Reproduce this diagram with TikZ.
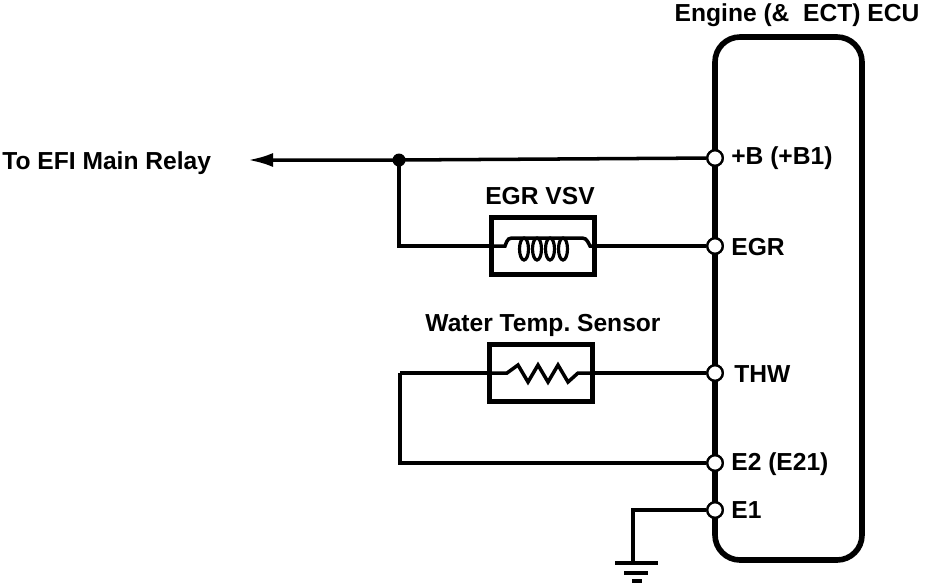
\documentclass[tikz,border=0pt]{standalone}
\usepackage{fontspec}
\setmainfont{Liberation Sans}
\usetikzlibrary{arrows.meta}
\frenchspacing
\begin{document}
\begin{tikzpicture}[x=0.02cm,y=-0.02cm,
  wire/.style={line width=2pt},
  term/.style={circle,draw,fill=white,line width=1.3pt,minimum size=0.31cm,inner sep=0pt},
  dev/.style={draw,line width=2.6pt,minimum width=2.06cm,minimum height=1.14cm,inner sep=0pt},
  lbl/.style={font=\fontsize{14}{16}\selectfont\bfseries,inner sep=0pt},
  tlbl/.style={lbl,anchor=west}]
  \useasboundingbox (0,0) rectangle (928,586);
  \draw[line width=3.2pt,rounded corners=0.5cm] (715,37) rectangle (862,560);
  \node[lbl] (title) at (797,15) {Engine (\&\ \ ECT) ECU};
  \node[term] (tB) at (715,158) {};
  \node[term] (tEGR) at (715,246) {};
  \node[term] (tTHW) at (715,373) {};
  \node[term] (tE2) at (715,463) {};
  \node[term] (tE1) at (715,510) {};
  \node[tlbl] (lB) at (731,158) {+B (+B1)};
  \node[tlbl] (lEGR) at (731,247) {EGR};
  \node[tlbl] (lTHW) at (734,374) {THW};
  \node[tlbl] (lE2) at (731,464) {E2 (E21)};
  \node[tlbl] (lE1) at (731,510) {E1};
  \node[dev] (vsv) at (543,246) {};
  \node[dev] (thw) at (541,373) {};
  \node[lbl] (lvsv) at (540,196) {EGR VSV};
  \node[lbl] (lthw) at (543,325) {Water Temp. Sensor};
  \node[lbl,anchor=west] (relay) at (2,163) {To EFI Main Relay};
  \coordinate (arr) at (248,160);
  \coordinate (dot) at (399,160);
  \coordinate (lft) at (400,373);
  \coordinate (gnd) at (633,563);
  \fill (dot) circle (0.13cm);
  \draw[wire,-{Latex[length=0.5cm,width=0.28cm]}] (tB) -- (dot) -- (arr);
  \draw[wire] (dot) |- (vsv.west);
  \draw[wire] (vsv.east) -- (tEGR);
  \draw[wire] (lft) -- (thw.west);
  \draw[wire] (thw.east) -- (tTHW);
  \draw[wire] (lft) |- (tE2);
  \draw[wire] (tE1) -| (gnd);
  \draw[wire] (vsv.west) -- (505,246) .. controls (508,238) .. (516,238) -- (578,238) .. controls (586,238) .. (590,246) -- (vsv.east);
  \foreach \i in {524,537,550,563}
    \draw[line width=1.8pt] (\i,249) ellipse (0.09cm and 0.22cm);
  \draw[wire] (thw.west) -- (507,373) -- (518,365) -- (528,382) -- (538,365) -- (548,382) -- (558,365) -- (568,382) -- (578,373) -- (thw.east);
  \draw[line width=2.4pt] (615,563) -- (658,563) (624,573) -- (648,573) (632,581) -- (642,581);
  \draw[line width=3.2pt] (tB) -- (tEGR) (tEGR) -- (tTHW) (tTHW) -- (tE2) (tE2) -- (tE1);
  \foreach \t in {tB,tEGR,tTHW,tE2,tE1} \node[term] at (\t) {};
\end{tikzpicture}
\end{document}
